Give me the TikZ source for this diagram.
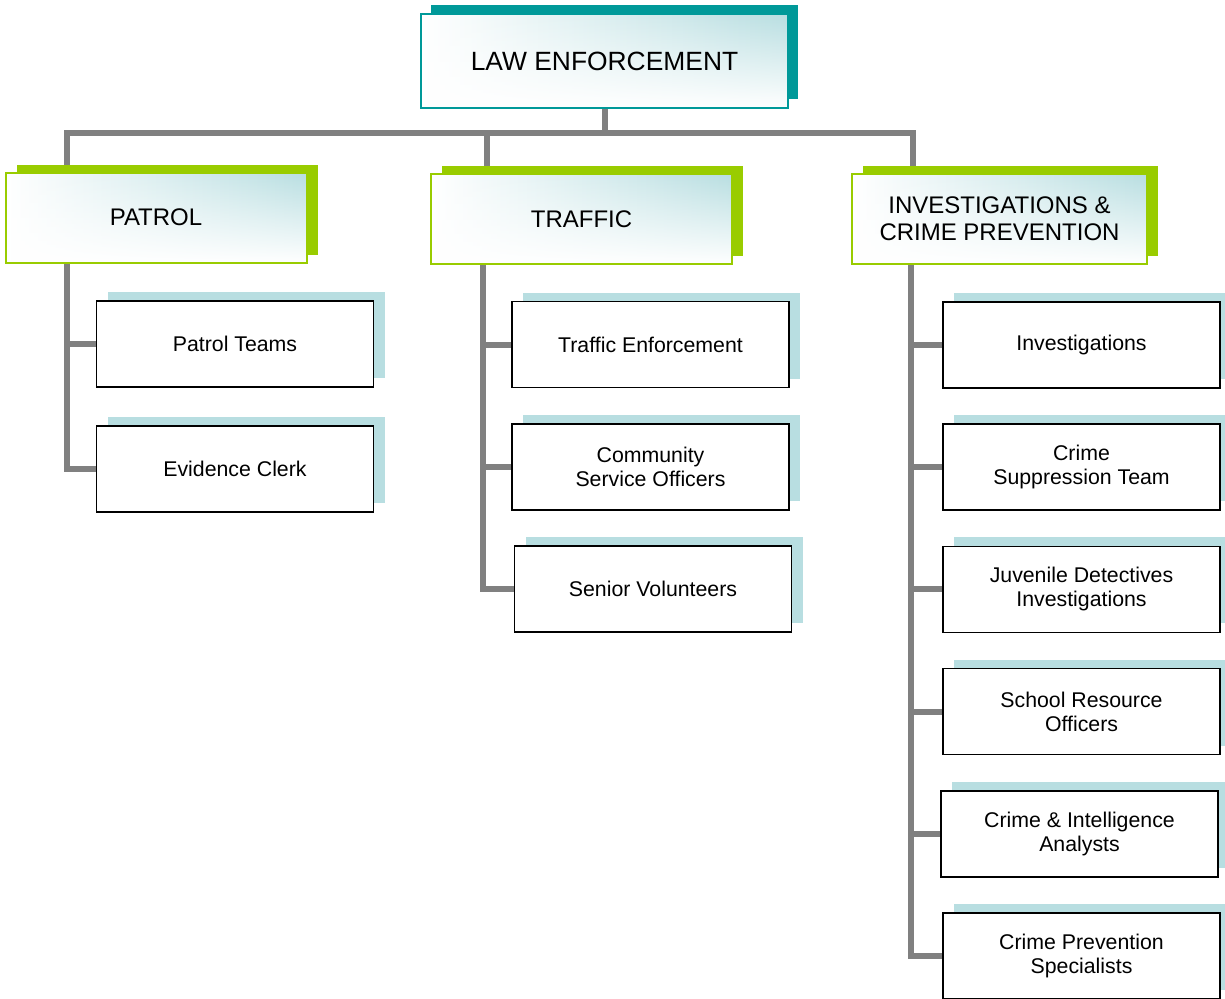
\documentclass[tikz,border=0pt]{standalone}
\usepackage{fontspec}
\setmainfont{Liberation Sans}
\usepackage{xcolor}
\usetikzlibrary{positioning,shadows,fadings,backgrounds}
\definecolor{teal1}{RGB}{0,153,153}
\definecolor{grn1}{RGB}{153,204,0}
\definecolor{blu1}{RGB}{184,222,225}
\definecolor{gry1}{RGB}{128,128,128}
\tikzstyle{glow} = [left color=white, right color=blu1,
    path picture={\fill[white, path fading=north] (path picture bounding box.south west) rectangle (path picture bounding box.north east);}]
\tikzstyle{head} = [rectangle, draw=teal1, line width=1.5pt, glow,
    general shadow={fill=teal1, shadow xshift=10pt, shadow yshift=9pt},
    minimum width=367pt, minimum height=94pt, font={\fontsize{26.4}{30}\selectfont}]
\tikzstyle{dept} = [rectangle, draw=grn1, line width=2pt, glow,
    general shadow={fill=grn1, shadow xshift=11pt, shadow yshift=8pt},
    minimum width=301pt, minimum height=90pt, align=center, font={\fontsize{24}{27}\selectfont}]
\tikzstyle{unit} = [rectangle, draw=black, line width=1.7pt, fill=white,
    general shadow={fill=blu1, shadow xshift=11pt, shadow yshift=9pt},
    minimum width=277pt, minimum height=86pt, align=center, font={\fontsize{21.3}{24}\selectfont}]
\tikzstyle{conn} = [gry1, line width=6pt]

\begin{document}
\begin{tikzpicture}[x=1pt, y=-1pt, node distance=34.5pt]
    \useasboundingbox (0,0) rectangle (1225,998);
    % Top and departments
    \node (law) [head] at (604.5,61) {LAW ENFORCEMENT};
    \node (patrol) [dept] at (156,217.5) {PATROL};
    \node (traffic) [dept] at (581.5,219) {TRAFFIC};
    \node (invest) [dept, minimum width=295pt] at (999.5,219) {INVESTIGATIONS \&\\CRIME PREVENTION};

    % Patrol units
    \node (pteam) [unit] at (235,344) {Patrol Teams};
    \node (eclerk) [unit, below=37pt of pteam] {Evidence Clerk};

    % Traffic units
    \node (tenf) [unit] at (650.5,344.5) {Traffic Enforcement};
    \node (cso) [unit, below=of tenf] {Community\\Service Officers};
    \node (senior) [unit, below=of cso, xshift=2.5pt] {Senior Volunteers};

    % Investigations units
    \node (inv) [unit] at (1081.5,345) {Investigations};
    \node (cst) [unit, below=of inv] {Crime\\Suppression Team};
    \node (juv) [unit, below=of cst] {Juvenile Detectives\\Investigations};
    \node (sro) [unit, below=of juv] {School Resource\\Officers};
    \node (cia) [unit, below=of sro, xshift=-2pt] {Crime \& Intelligence\\Analysts};
    \node (cps) [unit, below=of cia, xshift=2pt] {Crime Prevention\\Specialists};

    % Lines
    \begin{scope}[on background layer]
        \coordinate (bus) at ([yshift=-24pt]law.south);
        \coordinate (pdrop) at ([xshift=62pt]patrol.north west);
        \coordinate (tdrop) at ([xshift=57pt]traffic.north west);
        \coordinate (idrop) at ([xshift=62pt]invest.north west);
        \coordinate (ptrunk) at ([xshift=62pt]patrol.south west);
        \coordinate (ttrunk) at ([xshift=53pt]traffic.south west);
        \coordinate (itrunk) at ([xshift=60pt]invest.south west);
        \draw [conn] (law.south) -- (bus);
        \draw [conn] (pdrop) |- (bus) -| (idrop);
        \draw [conn] (tdrop) -- (tdrop |- bus);
        \foreach \u in {pteam,eclerk}
            \draw [conn] (ptrunk) |- (\u.west);
        \foreach \u in {tenf,cso,senior}
            \draw [conn] (ttrunk) |- (\u.west);
        \foreach \u in {inv,cst,juv,sro,cia,cps}
            \draw [conn] (itrunk) |- (\u.west);
    \end{scope}
\end{tikzpicture}
\end{document}
